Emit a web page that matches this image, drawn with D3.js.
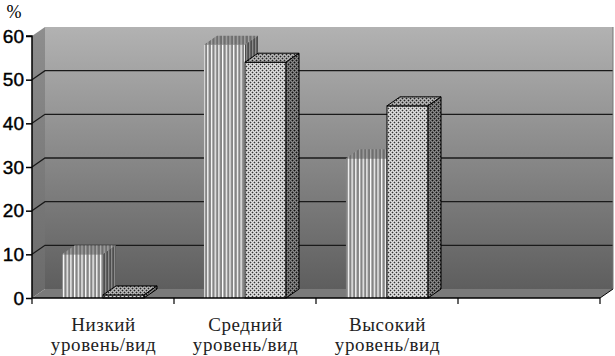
<!DOCTYPE html>
<html>
<head>
<meta charset="utf-8">
<script src="https://cdn.jsdelivr.net/npm/d3@7"></script>
<style>
  body { margin: 0; background: #fff; }
  svg { display: block; }
</style>
</head>
<body>
<svg width="615" height="356"></svg>
<script>
// данные с картинки
const categories = ["Низкий уровень/вид", "Средний уровень/вид", "Высокий уровень/вид", ""];
const seriesStriped = [10, 58, 32];
const seriesDotted = [0.7, 54, 44];
const yTicks = [0, 10, 20, 30, 40, 50, 60];

const svg = d3.select("svg");

// область графика
const area = { left: 32, right: 600, top: 36, bottom: 298, dx: 13, dy: -9 };

const scX = d3.scaleBand().domain(categories).range([area.left, area.right]);
const scSeries = d3.scaleBand().domain(["s1", "s2"]).range([0, scX.bandwidth()]).paddingOuter(0.73).paddingInner(0);
const scY = d3.scaleLinear().domain([0, 60]).range([area.bottom, area.top]);

// узоры
const defs = svg.append("defs");
function stripes(id, bg, fg, w) {
  const p = defs.append("pattern").attr("id", id).attr("patternUnits", "userSpaceOnUse")
    .attr("width", w).attr("height", 4);
  p.append("rect").attr("width", w).attr("height", 4).attr("fill", bg);
  p.append("rect").attr("width", 1.3).attr("height", 4).attr("fill", fg);
}
// точечный узор 4x4: светлые/серые клетки и чёрные точки
function dots(id, bg, mid, dark) {
  const p = defs.append("pattern").attr("id", id).attr("patternUnits", "userSpaceOnUse")
    .attr("width", 4).attr("height", 4);
  p.append("rect").attr("width", 4).attr("height", 4).attr("fill", bg);
  [[1, 0], [3, 0], [0, 1], [2, 1], [1, 2], [3, 2], [0, 3], [2, 3]].forEach(([x, y]) =>
    p.append("rect").attr("x", x).attr("y", y).attr("width", 1).attr("height", 1).attr("fill", mid));
  [[0, 0], [2, 2]].forEach(([x, y]) =>
    p.append("rect").attr("x", x).attr("y", y).attr("width", 1).attr("height", 1).attr("fill", dark));
}
stripes("stFront", "#858585", "#ffffff", 3.7);
stripes("stTop", "#6e6e6e", "#a8a8a8", 3.7);
stripes("stSide", "#4e4e4e", "#8a8a8a", 3);
dots("dtFront", "#e0e0e0", "#b0b0b0", "#333");
dots("dtTop", "#b8b8b8", "#8a8a8a", "#222");
dots("dtSide", "#8a8a8a", "#5a5a5a", "#111");

const grad = defs.append("linearGradient").attr("id", "wall").attr("x1", 0).attr("y1", 0).attr("x2", 0).attr("y2", 1);
grad.append("stop").attr("offset", "0%").attr("stop-color", "#b2b2b2");
grad.append("stop").attr("offset", "100%").attr("stop-color", "#5e5e5e");
const gradL = defs.append("linearGradient").attr("id", "lwall").attr("x1", 0).attr("y1", 0).attr("x2", 0).attr("y2", 1);
gradL.append("stop").attr("offset", "0%").attr("stop-color", "#8e8e8e");
gradL.append("stop").attr("offset", "100%").attr("stop-color", "#6a6a6a");

const { dx, dy } = area;
const pts = a => a.map(p => p.join(",")).join(" ");

// задняя стенка
svg.append("rect")
  .attr("x", area.left + dx).attr("y", area.top + dy)
  .attr("width", area.right - area.left).attr("height", area.bottom - area.top)
  .attr("fill", "url(#wall)");
// левая стенка
svg.append("polygon")
  .attr("points", pts([[area.left, area.top], [area.left + dx, area.top + dy], [area.left + dx, area.bottom + dy], [area.left, area.bottom]]))
  .attr("fill", "url(#lwall)");
// пол
svg.append("polygon")
  .attr("points", pts([[area.left, area.bottom], [area.left + dx, area.bottom + dy], [area.right + dx, area.bottom + dy], [area.right, area.bottom]]))
  .attr("fill", "#7a7a7a");

// линии сетки
const grid = svg.append("g").attr("stroke", "#1a1a1a").attr("stroke-width", 1.3).attr("fill", "none");
yTicks.filter(t => t > 0 && t < 60).forEach(t => {
  const y = scY(t);
  grid.append("polyline").attr("points", pts([[area.left, y], [area.left + dx, y + dy], [area.right + dx, y + dy]]));
});
svg.append("line").attr("x1", area.right + dx).attr("x2", area.right + dx)
  .attr("y1", area.top + dy).attr("y2", area.bottom + dy).attr("stroke", "#777");

// столбцы
function bar3d(g, x0, w, v, fills, stroke) {
  const x1 = x0 + w, y0 = scY(0), yv = scY(v);
  const sw = stroke ? 1 : 0;
  g.append("rect").attr("x", x0).attr("y", yv).attr("width", w).attr("height", y0 - yv)
    .attr("fill", fills[0]).attr("stroke", stroke || "none").attr("stroke-width", sw);
  g.append("polygon").attr("points", pts([[x0, yv], [x0 + dx, yv + dy], [x1 + dx, yv + dy], [x1, yv]]))
    .attr("fill", fills[1]).attr("stroke", stroke || "none").attr("stroke-width", sw).attr("stroke-linejoin", "round");
  g.append("polygon").attr("points", pts([[x1, yv], [x1 + dx, yv + dy], [x1 + dx, y0 + dy], [x1, y0]]))
    .attr("fill", fills[2]).attr("stroke", stroke || "none").attr("stroke-width", sw).attr("stroke-linejoin", "round");
}
const bars = svg.append("g");
categories.forEach((c, i) => {
  if (i >= seriesStriped.length) return;
  bar3d(bars, scX(c) + scSeries("s1"), scSeries.bandwidth(), seriesStriped[i], ["url(#stFront)", "url(#stTop)", "url(#stSide)"], null);
  bar3d(bars, scX(c) + scSeries("s2"), scSeries.bandwidth(), seriesDotted[i], ["url(#dtFront)", "url(#dtTop)", "url(#dtSide)"], "#000");
});

// оси
const axY = svg.append("g").attr("transform", `translate(${area.left},0)`)
  .call(d3.axisLeft(scY).tickValues(yTicks).tickSize(6).tickPadding(2));
axY.select(".domain").attr("stroke", "#000").attr("stroke-width", 1.5).attr("d", `M-6,${scY(60)}H0V${scY(0)}`);
axY.selectAll(".tick line").attr("stroke", "#000").attr("stroke-width", 1.5);
axY.selectAll(".tick text").attr("font-family", "Liberation Sans, Arial, sans-serif")
  .attr("font-size", 19).attr("fill", "#000").attr("stroke", "#000").attr("stroke-width", 0.4);

// нижняя ось: риски на границах категорий
const edges = categories.map(c => scX(c)).concat([area.right]);
svg.append("line").attr("x1", area.left).attr("x2", area.right).attr("y1", area.bottom).attr("y2", area.bottom)
  .attr("stroke", "#000").attr("stroke-width", 1.5);
svg.append("line").attr("x1", area.right).attr("x2", area.right + dx).attr("y1", area.bottom).attr("y2", area.bottom + dy)
  .attr("stroke", "#000").attr("stroke-width", 1);
svg.append("g").selectAll("line").data(edges).enter().append("line")
  .attr("x1", d => d).attr("x2", d => d).attr("y1", area.bottom).attr("y2", area.bottom + 6)
  .attr("stroke", "#000").attr("stroke-width", 1.2);

// подписи категорий (две строки)
const labels = svg.append("g").attr("font-family", "Liberation Serif, Times New Roman, serif")
  .attr("font-size", 19).attr("fill", "#222").attr("text-anchor", "middle").attr("letter-spacing", 0.6);
categories.forEach(c => {
  if (!c) return;
  const cx = scX(c) + scX.bandwidth() / 2 + 0.5;
  c.split(" ").forEach((w, k) =>
    labels.append("text").attr("x", cx).attr("y", 331 + k * 20).text(w));
});

// подпись оси
svg.append("text").attr("x", 14).attr("y", 18).attr("text-anchor", "middle")
  .attr("font-family", "Liberation Serif, Times New Roman, serif").attr("font-size", 18).text("%");
</script>
</body>
</html>
